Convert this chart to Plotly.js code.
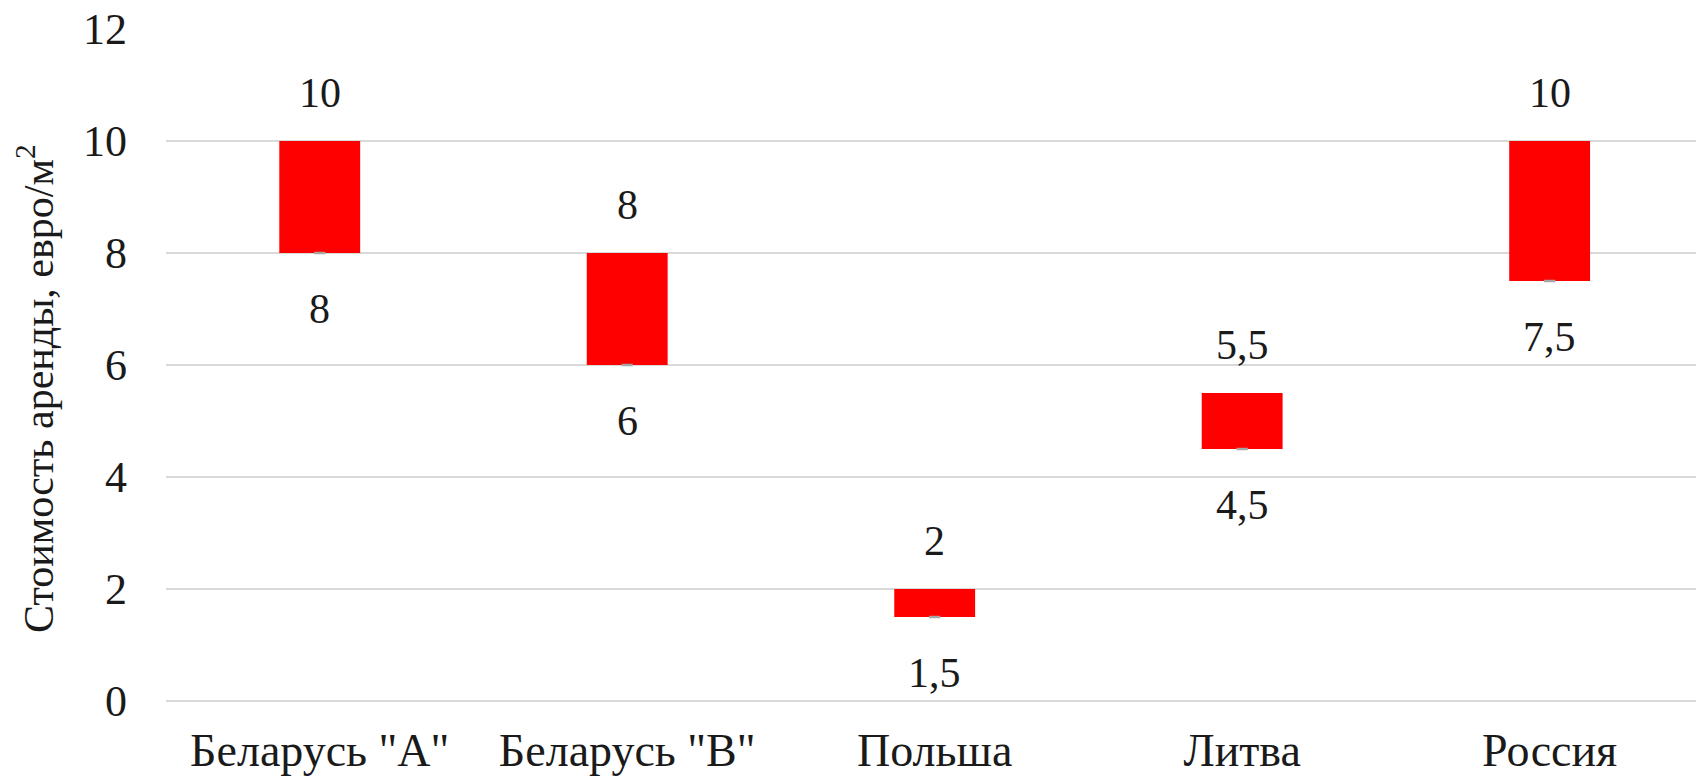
<!DOCTYPE html>
<html>
<head>
<meta charset="utf-8">
<script src="https://cdn.plot.ly/plotly-3.0.1.min.js"></script>
<style>
html,body{margin:0;padding:0;background:#fff;font-family:'Liberation Serif',serif;}
#prime{position:absolute;left:2px;top:2px;z-index:0;font-family:'Liberation Serif';font-size:2px;color:#fff;line-height:2px;}
#chart{position:relative;z-index:1;}
#chart svg text, #chart svg tspan{font-family:'Liberation Serif','Times New Roman',serif !important;}
</style>
</head>
<body>
<div id="prime">Б1</div>
<div id="chart"></div>
<script>
var categories = ['Беларусь "A"', 'Беларусь "B"', 'Польша', 'Литва', 'Россия'];
var minValues = [8, 6, 1.5, 4.5, 7.5];
var maxValues = [10, 8, 2, 5.5, 10];
var minLabels = ['8', '6', '1,5', '4,5', '7,5'];
var maxLabels = ['10', '8', '2', '5,5', '10'];
var yTicks = [0, 2, 4, 6, 8, 10, 12];
var yTitle = 'Стоимость аренды, евро/м<sup>2</sup>';

var FONT = 'Liberation Serif';
var TXT = '#1a1a1a';
var idx = categories.map(function (_, i) { return i; });

var traces = [
  {
    type: 'bar',
    x: idx,
    base: minValues,
    y: maxValues.map(function (v, i) { return v - minValues[i]; }),
    width: 0.263,
    marker: { color: '#ff0000', line: { width: 0 } },
    hoverinfo: 'skip'
  },
  {
    type: 'scatter',
    mode: 'markers',
    x: idx,
    y: minValues,
    marker: { symbol: 'line-ew', size: 8, color: '#a6a6a6', line: { color: '#a6a6a6', width: 2.5 } },
    hoverinfo: 'skip'
  }
];

var annotations = [];
idx.forEach(function (i) {
  annotations.push({ x: i, y: maxValues[i], xref: 'x', yref: 'y', text: maxLabels[i], showarrow: false, yshift: 48, yanchor: 'middle', font: { family: FONT, size: 42, color: TXT } });
  annotations.push({ x: i, y: minValues[i], xref: 'x', yref: 'y', text: minLabels[i], showarrow: false, yshift: -56, yanchor: 'middle', font: { family: FONT, size: 42, color: TXT } });
});
annotations.push({
  xref: 'paper', yref: 'paper', x: -131 / 1530, y: (783 - 389 - 82) / 672,
  text: yTitle, textangle: -90, showarrow: false, xanchor: 'center', yanchor: 'middle',
  font: { family: FONT, size: 42, color: TXT }
});

var layout = {
  width: 1696, height: 783,
  margin: { l: 166, r: 0, t: 29, b: 82, pad: 0 },
  paper_bgcolor: '#ffffff', plot_bgcolor: '#ffffff',
  showlegend: false,
  xaxis: {
    range: [-0.5, 4.476],
    tickvals: idx, ticktext: categories,
    tickfont: { family: FONT, size: 46, color: TXT },
    showgrid: false, zeroline: false, showline: false, ticks: '',
    ticklabelstandoff: 18
  },
  yaxis: {
    range: [0, 12],
    tickvals: yTicks,
    tickfont: { family: FONT, size: 44, color: TXT },
    showgrid: true, gridcolor: '#d9d9d9', gridwidth: 2,
    zeroline: true, zerolinecolor: '#d9d9d9', zerolinewidth: 2,
    showline: false, ticks: '', ticklabelstandoff: 38
  },
  annotations: annotations
};

Plotly.newPlot('chart', traces, layout, { displayModeBar: false });
</script>
</body>
</html>
